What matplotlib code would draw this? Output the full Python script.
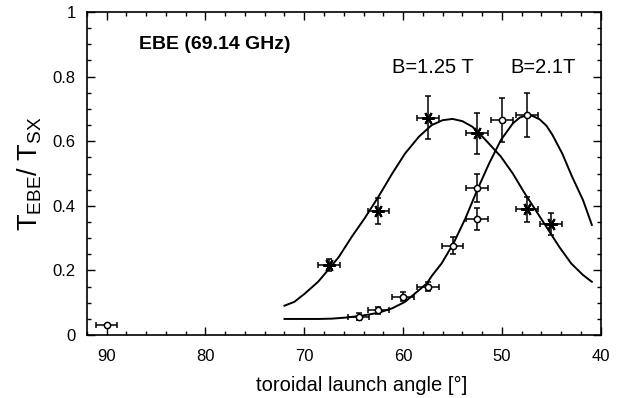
import numpy as np
import matplotlib
matplotlib.use("Agg")
import matplotlib.pyplot as plt
from matplotlib.ticker import MultipleLocator

plt.rcParams['font.family'] = ['Liberation Sans', 'DejaVu Sans']
plt.rcParams['mathtext.fontset'] = 'custom'
plt.rcParams['mathtext.rm'] = 'Liberation Sans'
plt.rcParams['mathtext.it'] = 'Liberation Sans'

# datos B=1.25 T (asteriscos)
ang_125 = [67.5, 62.5, 57.5, 52.5, 47.5, 45.0]
val_125 = [0.217, 0.385, 0.673, 0.624, 0.389, 0.343]
err_125 = [0.02, 0.040, 0.066, 0.063, 0.038, 0.034]

# datos B=2.1 T (circulos)
ang_21 = [90.0, 64.5, 62.5, 60.0, 57.5, 55.0, 52.5, 52.5, 50.0, 47.5]
val_21 = [0.032, 0.057, 0.077, 0.119, 0.150, 0.277, 0.456, 0.359, 0.666, 0.681]
err_21 = [0.0, 0.010, 0.011, 0.014, 0.015, 0.027, 0.044, 0.035, 0.067, 0.067]

xerr_ang = 1.1

# curvas teoricas
curva1_x = [72.0, 71.0, 70.0, 68.6, 67.6, 66.5, 65.2, 63.9, 62.5, 61.1, 59.8, 58.4,
            57.1, 56.0, 55.0, 54.0, 53.0, 52.0, 51.0, 50.1, 48.9, 47.8, 46.6, 45.4,
            44.2, 43.0, 41.8, 40.9]
curva1_y = [0.091, 0.103, 0.127, 0.165, 0.201, 0.242, 0.304, 0.361, 0.428, 0.500,
            0.562, 0.614, 0.650, 0.665, 0.669, 0.662, 0.645, 0.615, 0.582, 0.552,
            0.500, 0.444, 0.387, 0.330, 0.273, 0.222, 0.186, 0.165]

curva2_x = [72.0, 70.0, 68.5, 67.2, 65.9, 64.2, 62.5, 61.1, 59.8, 58.4, 57.6, 57.1,
            56.1, 54.9, 53.7, 52.5, 51.3, 50.1, 48.9, 48.2, 47.5, 46.9, 46.2, 45.5,
            44.9, 43.9, 42.9, 41.8, 40.9]
curva2_y = [0.050, 0.050, 0.050, 0.051, 0.054, 0.060, 0.069, 0.083, 0.103, 0.139,
            0.160, 0.183, 0.222, 0.284, 0.361, 0.449, 0.531, 0.604, 0.655, 0.673,
            0.681, 0.678, 0.668, 0.648, 0.620, 0.562, 0.490, 0.418, 0.341]

fig = plt.figure(figsize=(6.2, 3.98), dpi=100)
ax = fig.add_axes([0.140, 0.158, 0.829, 0.812])

ax.plot(curva1_x, curva1_y, color='black', lw=1.4)
ax.plot(curva2_x, curva2_y, color='black', lw=1.4)

ax.errorbar(ang_125, val_125, yerr=err_125, xerr=xerr_ang, fmt='none',
            ecolor='black', elinewidth=1.1, capsize=2.5, capthick=1.1)
ax.plot(ang_125, val_125, linestyle='none', marker=(6, 2, 90), ms=9,
        mec='black', mew=1.5)

ax.errorbar(ang_21, val_21, yerr=err_21, xerr=xerr_ang, fmt='none',
            ecolor='black', elinewidth=1.1, capsize=2.5, capthick=1.1)
ax.plot(ang_21, val_21, linestyle='none', marker='o', ms=4.5,
        mfc='white', mec='black', mew=1.1)

ax.set_xlim(92, 40)
ax.set_ylim(0, 1)
ax.xaxis.set_major_locator(MultipleLocator(10))
ax.xaxis.set_minor_locator(MultipleLocator(2))
ax.yaxis.set_minor_locator(MultipleLocator(0.05))
ax.set_yticks([0, 0.2, 0.4, 0.6, 0.8, 1.0])
ax.set_yticklabels(['0', '0.2', '0.4', '0.6', '0.8', '1'])

ax.tick_params(which='both', direction='in', top=True, right=True,
               labelsize=12, width=1.0)
ax.tick_params(axis='x', which='both', pad=10)
ax.tick_params(axis='y', which='both', pad=8)
ax.tick_params(which='major', length=6)
ax.tick_params(which='minor', length=3)
for s in ax.spines.values():
    s.set_linewidth(1.2)

ax.set_xlabel('toroidal launch angle [°]', fontsize=14.5)
ax.xaxis.set_label_coords(0.534, -0.125)
ax.set_ylabel(r'$\mathrm{T_{EBE}/\ T_{SX}}$', fontsize=19.5, labelpad=6)

ax.text(86.7, 0.90, 'EBE (69.14 GHz)', fontsize=14, fontweight='bold',
        va='center', ha='left')
ax.text(61.1, 0.81, 'B=1.25 T', fontsize=14.5, ha='left', va='baseline')
ax.text(49.15, 0.81, 'B=2.1T', fontsize=14.5, ha='left', va='baseline')

fig.savefig('out.png', dpi=100)
